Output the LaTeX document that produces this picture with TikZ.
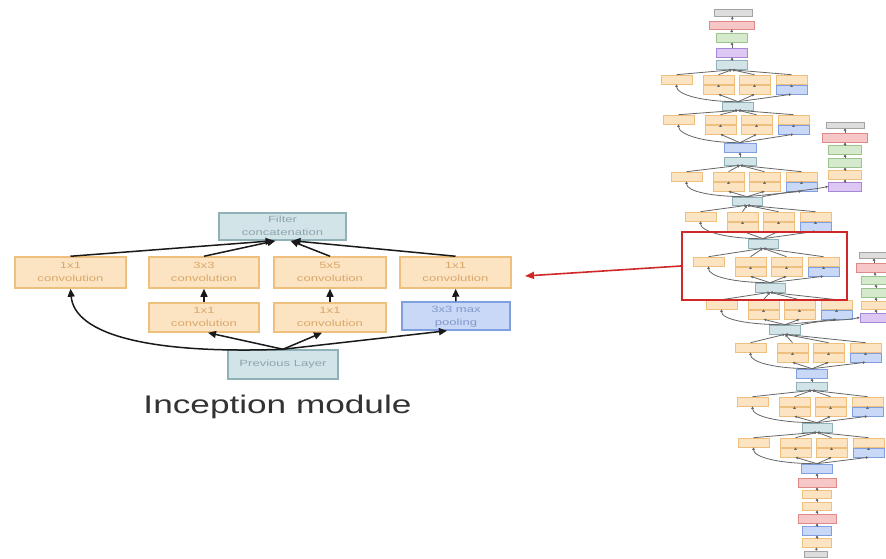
\documentclass[tikz,border=0pt]{standalone}
\usepackage{fontspec}
\setmainfont{Liberation Sans}
\usepackage{graphicx}
\usetikzlibrary{arrows.meta,calc}

\definecolor{orfill}{HTML}{FCE3C2}
\definecolor{ordraw}{HTML}{EFBF7E}
\definecolor{ortext}{HTML}{D9A86A}
\definecolor{tlfill}{HTML}{D3E4E8}
\definecolor{tldraw}{HTML}{8FB1B7}
\definecolor{tltext}{HTML}{8BA6AC}
\definecolor{blfill}{HTML}{C8D8F6}
\definecolor{bldraw}{HTML}{809FE0}
\definecolor{bltext}{HTML}{8499CC}
\definecolor{rdfill}{HTML}{F7C6C6}
\definecolor{rddraw}{HTML}{DE8A8A}
\definecolor{gnfill}{HTML}{D5EACD}
\definecolor{gndraw}{HTML}{9CC48F}
\definecolor{pufill}{HTML}{DCC8F2}
\definecolor{pudraw}{HTML}{A788D6}
\definecolor{gyfill}{HTML}{DDDDDD}
\definecolor{gydraw}{HTML}{A3A3A3}
\definecolor{zoomred}{HTML}{D02828}

\tikzset{
  bigbox/.style={draw,line width=1.5pt,inner sep=0pt,minimum height=30pt,
    font=\fontsize{9}{13}\selectfont},
  net/.style={draw,line width=0.6pt,inner sep=0pt,minimum width=31pt,minimum height=9pt},
  orbox/.style={draw=ordraw,fill=orfill,text=ortext},
  tlbox/.style={draw=tldraw,fill=tlfill,text=tltext},
  blbox/.style={draw=bldraw,fill=blfill,text=bltext},
  rdbox/.style={draw=rddraw,fill=rdfill},
  gnbox/.style={draw=gndraw,fill=gnfill},
  pubox/.style={draw=pudraw,fill=pufill},
  gybox/.style={draw=gydraw,fill=gyfill},
  arr/.style={line width=1.5pt,draw=black!90,-{Triangle[length=8pt,width=7pt]}},
  netarr/.style={line width=0.8pt,draw=black!60,-{Triangle[length=2.5pt,width=2.5pt]}},
  redarr/.style={line width=1.6pt,draw=zoomred,-{Triangle[length=9pt,width=7pt]}}
}

\newcommand{\boxlbl}[2]{\scalebox{1.45}[1]{\begin{tabular}{@{}c@{}}#1\\#2\end{tabular}}}

% one small inception block: prefix, x of 2nd column, top y, layer below, layer above
\newcommand{\incmod}[5]{%
  \node[net,orbox] (#1l) at ({#2-26.5},{#3+4.5}) {};
  \node[net,orbox] (#1a) at ({#2+15.5},{#3+4.5}) {};
  \node[net,orbox] (#1b) at ({#2+51.5},{#3+4.5}) {};
  \node[net,orbox] (#1r) at ({#2+88.5},{#3+4.5}) {};
  \node[net,orbox] (#1c) at ({#2+15.5},{#3+14.5}) {};
  \node[net,orbox] (#1d) at ({#2+51.5},{#3+14.5}) {};
  \node[net,blbox] (#1p) at ({#2+88.5},{#3+14.5}) {};
  \draw[netarr] (#4.north) .. controls ($(#4.north)!0.6!(#4.north -| #1l.south)$) and +(0,10) .. (#1l.south);
  \foreach \s in {c,d,p} \draw[netarr] (#4.north) -- (#1\s.south);
  \draw[netarr] (#1c) -- (#1a);
  \draw[netarr] (#1d) -- (#1b);
  \draw[netarr] (#1p) -- (#1r);
  \foreach \s in {l,a,b,r} \draw[netarr] (#1\s.north) -- (#5.south);
}

\begin{document}
\begin{tikzpicture}[x=1pt,y=-1pt]
  \useasboundingbox (0,0) rectangle (886,559);
  \fill[white] (0,0) rectangle (886,559);
  \clip (0,0) rectangle (886,559);

  % inception module (left)
  \node[bigbox,tlbox,minimum width=127pt,minimum height=27pt] (concat) at (282.5,226.5) {\boxlbl{Filter}{concatenation}};
  \node[bigbox,orbox,minimum width=111pt,minimum height=31pt] (l1) at (70.5,272.5) {\boxlbl{1x1}{convolution}};
  \node[bigbox,orbox,minimum width=110pt,minimum height=31pt] (c33) at (204,272.5) {\boxlbl{3x3}{convolution}};
  \node[bigbox,orbox,minimum width=112pt,minimum height=31pt] (c55) at (330,272.5) {\boxlbl{5x5}{convolution}};
  \node[bigbox,orbox,minimum width=111pt,minimum height=31pt] (r1) at (455.5,272.5) {\boxlbl{1x1}{convolution}};
  \node[bigbox,orbox,minimum width=110pt,minimum height=29pt] (red33) at (204,317.5) {\boxlbl{1x1}{convolution}};
  \node[bigbox,orbox,minimum width=112pt,minimum height=29pt] (red55) at (330,317.5) {\boxlbl{1x1}{convolution}};
  \node[bigbox,blbox,minimum width=108pt,minimum height=28pt] (pool) at (456,316) {\boxlbl{3x3 max}{pooling}};
  \node[bigbox,tlbox,minimum width=110pt,minimum height=29pt] (prev) at (283,364.5) {\scalebox{1.45}[1]{Previous Layer}};

  \draw[arr] (l1.north) -- ([xshift=-9pt]concat.south);
  \draw[arr] (c33.north) -- ([xshift=-7pt]concat.south);
  \draw[arr] (c55.north) -- ([xshift=8pt]concat.south);
  \draw[arr] (r1.north) -- ([xshift=10pt]concat.south);
  \draw[arr] (red33) -- (c33);
  \draw[arr] (red55) -- (c55);
  \draw[arr] (pool) -- (r1);
  \draw[arr] (prev.north) .. controls +(-133,5) and +(4,46) .. (l1.south);
  \draw[arr] (prev.north) -- ([xshift=4pt]red33.south);
  \draw[arr] (prev.north) -- ([xshift=-8pt]red55.south);
  \draw[arr] (prev.north) -- ([xshift=-9pt]pool.south);

  \node[anchor=base,text=black!80,font=\fontsize{25.5}{30}\selectfont] (title) at (277.5,413)
    {\scalebox{1.38}[1]{Inception module}};

  % network (right)
  \node[net,gybox,minimum width=38pt,minimum height=7pt] (t1) at (733,12.5) {};
  \node[net,rdbox,minimum width=45pt,minimum height=8pt] (t2) at (731.5,25) {};
  \node[net,gnbox] (t3) at (732,37.5) {};
  \node[net,pubox] (t4) at (732,52.5) {};
  \node[net,tlbox] (t5) at (732,65) {};
  \node[net,tlbox,minimum height=8pt] (c1) at (738,106) {};
  \node[net,blbox,minimum width=32pt] (p1) at (740,147.5) {};
  \node[net,tlbox,minimum width=32pt,minimum height=8pt] (c2) at (740,161) {};
  \node[net,tlbox,minimum width=30pt,minimum height=8pt] (c3) at (747,201) {};
  \node[net,tlbox,minimum width=30pt] (c4) at (763,243.5) {};
  \node[net,tlbox,minimum width=30pt] (c5) at (770,287.5) {};
  \node[net,tlbox] (c6) at (785,329.5) {};
  \node[net,blbox] (p2) at (812,373.5) {};
  \node[net,tlbox,minimum height=8pt] (c7) at (812,386) {};
  \node[net,tlbox,minimum width=30pt] (c8) at (817,427.5) {};
  \node[net,blbox] (p3) at (817,468.5) {};
  \node[net,rdbox,minimum width=38pt] (b1) at (817,482.5) {};
  \node[net,orbox,minimum width=29pt,minimum height=8pt] (b2) at (817,494) {};
  \node[net,orbox,minimum width=29pt,minimum height=8pt] (b3) at (817,506) {};
  \node[net,rdbox,minimum width=38pt] (b4) at (817,518.5) {};
  \node[net,blbox,minimum width=29pt] (b5) at (817,530.5) {};
  \node[net,orbox,minimum width=29pt] (b6) at (817,542.5) {};
  \node[net,gybox,minimum width=23pt,minimum height=6pt] (b7) at (816,554) {};

  \draw[netarr] (t5) -- (t4);
  \draw[netarr] (t4) -- (t3);
  \draw[netarr] (t3) -- (t2);
  \draw[netarr] (t2) -- (t1);
  \draw[netarr] (c2) -- (p1);
  \draw[netarr] (c7) -- (p2);
  \draw[netarr] (b7) -- (b6);
  \draw[netarr] (b6) -- (b5);
  \draw[netarr] (b5) -- (b4);
  \draw[netarr] (b4) -- (b3);
  \draw[netarr] (b3) -- (b2);
  \draw[netarr] (b2) -- (b1);
  \draw[netarr] (b1) -- (p3);

  \incmod{ma}{703}{75}{c1}{t5}
  \incmod{mb}{705}{115}{p1}{c1}
  \incmod{mc}{713}{172}{c3}{c2}
  \incmod{md}{727}{212}{c4}{c3}
  \incmod{me}{735}{257}{c5}{c4}
  \incmod{mf}{748}{300}{c6}{c5}
  \incmod{mg}{777}{343}{p2}{c6}
  \incmod{mh}{779}{397}{c8}{c7}
  \incmod{mi}{780}{438}{p3}{c8}

  % side branches
  \node[net,gybox,minimum width=38pt,minimum height=6pt] (xa1) at (845,125) {};
  \node[net,rdbox,minimum width=45pt] (xa2) at (845,137.5) {};
  \node[net,gnbox,minimum width=33pt] (xa3) at (845,149.5) {};
  \node[net,gnbox,minimum width=33pt] (xa4) at (845,162.5) {};
  \node[net,orbox,minimum width=33pt] (xa5) at (845,174.5) {};
  \node[net,pubox,minimum width=33pt] (xa6) at (845,186.5) {};
  \node[net,gybox,minimum width=30pt,minimum height=6pt] (xb1) at (874,255) {};
  \node[net,rdbox,minimum width=36pt] (xb2) at (874,267.5) {};
  \node[net,gnbox,minimum width=30pt,minimum height=8pt] (xb3) at (876,280) {};
  \node[net,gnbox,minimum width=30pt] (xb4) at (876,292.5) {};
  \node[net,orbox,minimum width=30pt,minimum height=8pt] (xb5) at (876,305) {};
  \node[net,pubox,minimum width=32pt] (xb6) at (876,317.5) {};
  \foreach \u/\v in {6/5,5/4,4/3,3/2,2/1} {
    \draw[netarr] (xa\u) -- (xa\v);
    \draw[netarr] (xb\u) -- (xb\v);
  }
  \draw[netarr] (c3.north east) .. controls +(30,-6) and +(-20,4) .. (xa6.west);
  \draw[netarr] (c6.north east) .. controls +(30,-6) and +(-20,4) .. (xb6.west);

  % zoomed block
  \node[draw=zoomred,line width=2pt,minimum width=165pt,minimum height=68pt,inner sep=0pt] (zoombox) at (764.5,266) {};
  \coordinate (tip) at (525,276);
  \draw[redarr] (zoombox.west) -- (tip);
\end{tikzpicture}
\end{document}
